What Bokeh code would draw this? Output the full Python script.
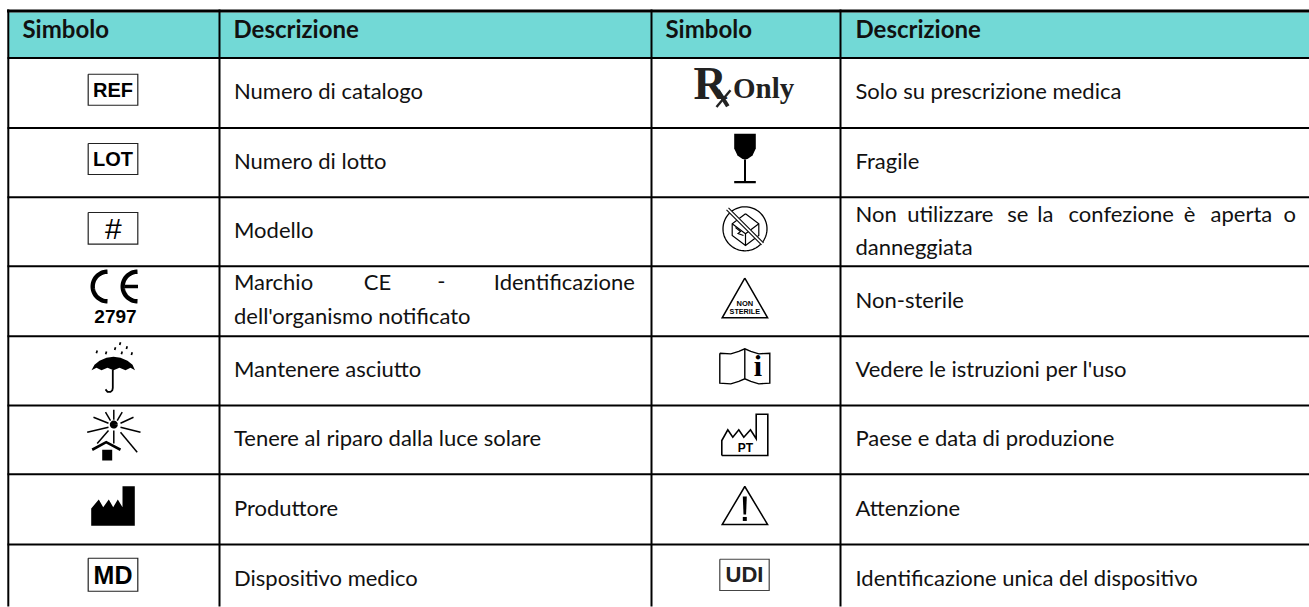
import numpy as np
from bokeh.plotting import figure
from bokeh.models import Range1d
from bokeh.core.properties import value
from bokeh.embed import file_html
from bokeh.resources import INLINE

header_labels = ["Simbolo", "Descrizione", "Simbolo", "Descrizione"]
left_descriptions = [
    "Numero di catalogo", "Numero di lotto", "Modello",
    ["Marchio", "CE", "-", "Identificazione"],
    "Mantenere asciutto", "Tenere al riparo dalla luce solare", "Produttore",
    "Dispositivo medico",
]
left_second_lines = {3: "dell'organismo notificato"}
right_descriptions = [
    "Solo su prescrizione medica", "Fragile",
    ["Non", "utilizzare", "se", "la", "confezione", "è", "aperta", "o"],
    "Non-sterile", "Vedere le istruzioni per l'uso",
    "Paese e data di produzione", "Attenzione",
    "Identificazione unica del dispositivo",
]
right_second_lines = {2: "danneggiata"}

W, H = 1309, 607
col_lines = [7.8, 219, 651, 840]
row_lines = [57.5, 127.5, 196.7, 265.7, 335.7, 405, 473.7, 544, 613.5]
HEADER_COLOR = "#72D9D6"
INK = "#111111"
LEFT, RIGHT = 113.0, 744.3
FONT = "Lato"
BODY = 22
HEAD = 24
K = 0.375

p = figure(width=W, height=H, x_range=Range1d(0, W), y_range=Range1d(H, 0),
           toolbar_location=None, output_backend="svg", min_border=0,
           outline_line_color=None, background_fill_color="white")
p.axis.visible = False
p.grid.visible = False


def center(col, row):
    return (LEFT if col == 0 else RIGHT), (row_lines[row] + row_lines[row + 1]) / 2


def put(x, y, txt, size, font=FONT, style="normal", color=INK, align="left"):
    p.text([x], [y - K * size], text=[txt], text_font=value(font), text_font_style=style,
           text_font_size=f"{size}px", text_color=color, text_align=align,
           text_baseline="alphabetic")


def stroke(col, row, pts, width=1.5, color="#000000", close=False):
    cx, cy = center(col, row)
    pts = list(pts) + ([pts[0]] if close else [])
    p.line([cx + a for a, _ in pts], [cy + b for _, b in pts],
           line_width=width, line_color=color, line_join="miter")


def fill(col, row, pts, color="#000000"):
    cx, cy = center(col, row)
    p.patch([cx + a for a, _ in pts], [cy + b for _, b in pts],
            fill_color=color, line_color=None)


def label(col, row, dx, dy, txt, size, font="Liberation Sans", style="bold",
          color="#000000", align="center"):
    cx, cy = center(col, row)
    put(cx + dx, cy + dy, txt, size, font, style, color, align)


def arc(x, y, r, a0, a1, n=40):
    t = np.radians(np.linspace(a0, a1, n))
    return list(zip(x + r * np.cos(t), y + r * np.sin(t)))


def box(col, row, x0, x1, y0, y1, width=1.2, color="#222222"):
    stroke(col, row, [(x0, y0), (x1, y0), (x1, y1), (x0, y1)], width, color, close=True)


# header band and grid
p.quad(left=[col_lines[0]], right=[W], top=[12], bottom=[57], fill_color=HEADER_COLOR, line_color=None)
p.segment([6.5], [10.5], [W], [10.5], line_color="black", line_width=3)
for y in row_lines[:-1]:
    p.segment([7], [y], [W], [y], line_color="black", line_width=2)
for i, x in enumerate(col_lines):
    p.segment([x], [9], [x], [606], line_color="black", line_width=2)

# text
header_x = [22, 233, 665, 855]
for x, t in zip(header_x, header_labels):
    put(x, 37.3, t, HEAD, style="bold")

BASE_OFFSET = 6.2
body_x = {0: 233.5, 1: 855}
word_x = {3: [233.5, 363.3, 436.7, 493.3], 2: [855, 906.7, 1006.7, 1036.7, 1068, 1183.3, 1210, 1283]}
two_line_base = {3: (289, 323.3), 2: (221, 254)}
for col, (desc, second) in enumerate([(left_descriptions, left_second_lines),
                                      (right_descriptions, right_second_lines)]):
    for r, d in enumerate(desc):
        if isinstance(d, list):
            b1, b2 = two_line_base[r]
            for x, w in zip(word_x[r], d):
                put(x, b1, w, BODY)
            put(body_x[col], b2, second[r], BODY)
        else:
            _, cy = center(col, r)
            put(body_x[col], cy + BASE_OFFSET, d, BODY)

# ---- left symbols ----
box(0, 0, -25.3, 24.3, -18.75, 12.25)
label(0, 0, -0.5, 4.5, "REF", 20)
box(0, 1, -25.3, 24.3, -19.1, 11.9)
label(0, 1, -0.5, 3.9, "LOT", 20)
box(0, 2, -25.3, 24.3, -19.2, 12.5)
label(0, 2, -0.2, 7.8, "#", 30, style="normal")

stroke(0, 3, arc(-6, -14.7, 14.8, 90, 270), 4.4)
stroke(0, 3, arc(24, -14.7, 14.8, 90, 270), 4.4)
stroke(0, 3, [(11.5, -14.7), (24.5, -14.7)], 3.4)
label(0, 3, 2, 22, "2797", 19)

fill(0, 4, [(-22, -0.5), (-19, -6), (-14, -10), (-7, -13), (0, -14), (7, -13), (14, -10),
            (19, -6), (21.5, -0.5), (17, -3), (12, -0.5), (6, -3), (0, -0.5), (-6, -3),
            (-12, -0.5), (-17, -3)])
stroke(0, 4, [(-0.7, -1), (-0.7, 17), (-1.2, 19.5), (-3, 21), (-6, 21), (-8, 18.5)], 1.8)
for dx, dy in [(7, -28.6), (13.7, -24.6), (2, -23.6), (8.7, -19.3), (18.7, -18.6), (-7, -19.3), (-16.3, -20.3)]:
    stroke(0, 4, [(dx, dy), (dx - 0.8, dy + 2.8)], 1.7)

stroke(0, 5, arc(0.3, -15.3, 2, 0, 360), 4)
for a, b in [((0.3, -30), (0.3, -20)), ((-8, -27.7), (-3, -19.3)), ((8.7, -27.7), (3.7, -19.3)),
             ((-20, -22.6), (-5, -16.6)), ((20, -22.6), (7, -16.6)), ((-26.3, -7.7), (-5, -12.7)),
             ((27, -7.7), (7, -12.7)), ((-5, -9.4), (-16.3, 3.6)), ((0.3, -9.4), (0.3, 3.6)),
             ((7, -7.7), (23.7, 12.3))]:
    stroke(0, 5, [a, b], 1.5)
stroke(0, 5, [(-21.3, 9.9), (-7.3, 2.3), (7, 9.9)], 2.6)
fill(0, 5, [(-11.3, 10), (-1.3, 10), (-1.3, 20.6), (-11.3, 20.6)])

fill(0, 6, [(-22.3, 16.45), (-22.3, -0.85), (-14.7, -9.85), (-10.3, -2.15), (-4.7, -9.85),
            (-0.3, -2.15), (4.3, -9.85), (9, -2.15), (9, -23.15), (21.3, -23.15),
            (21.3, 16.45)])

box(0, 7, -25.3, 24.3, -21, 12)
label(0, 7, -0.5, 5.25, "MD", 25)

# ---- right symbols ----
label(1, 0, -51.3, 7.25, "R", 46, font="Liberation Serif", color="#222222", align="left")
stroke(1, 0, [(-27, -2.75), (-17, 13.25)], 4, "#222222")
stroke(1, 0, [(-14.3, -2.75), (-28.3, 13.95)], 2.4, "#222222")
label(1, 0, -11.8, 6.25, "Only", 29, font="Liberation Serif", color="#222222", align="left")

fill(1, 1, [(-10.6, -28.8), (11, -28.8), (11, -14.1), (7.7, -7.1), (2.7, -3.6), (0.2, -3.1),
            (-2.3, -3.6), (-7.3, -7.1), (-10.6, -14.1)])
stroke(1, 1, [(0.2, -3.1), (0.2, 20)], 2)
stroke(1, 1, [(-10.6, 19.6), (11, 19.6)], 2.2)

stroke(1, 2, arc(0.2, -2.9, 22, 0, 360, 90), 1.3)
stroke(1, 2, [(0.7, -17.9), (14, -7.9), (14, 3.8), (0.7, 13.8), (-12.6, 3.8), (-12.6, -7.9)], 1.2, close=True)
stroke(1, 2, [(-12.6, -7.9), (0.7, 2), (14, -7.9)], 1.2)
stroke(1, 2, [(0.7, 2), (0.7, 13.8)], 1.2)
stroke(1, 2, [(-9.3, -4.2), (-4.3, -0.2), (-6.8, 1.8), (-1.3, 3.8)], 1.1)
stroke(1, 2, [(-17.3, -22.9), (17.7, 12.1)], 3.4, "white")
stroke(1, 2, [(-16.3, -23.9), (18.7, 11.1)], 1.1)
stroke(1, 2, [(-18.3, -21.9), (16.7, 13.1)], 1.1)

stroke(1, 3, [(0, -23), (22.8, 16.6), (-22.6, 16.6)], 1.5, close=True)
label(1, 3, 0, 5.3, "NON", 7.5)
label(1, 3, 0, 13, "STERILE", 7.2)

stroke(1, 4, [(-25, -17.65), (-14, -17), (-6, -19.5), (0, -22), (6, -19.5), (14, -17), (25, -17.65),
              (25, 12.35), (14, 13), (6, 10.5), (0, 8), (-6, 10.5), (-14, 13), (-25, 12.35)], 1.4, close=True)
stroke(1, 4, [(0, -22), (0, 8)], 1.4)
label(1, 4, 13, 5.65, "i", 30, font="Liberation Serif")

stroke(1, 5, [(-23, 15.65), (-23, 0.65), (-17, -10.05), (-12, -2.65), (-6, -10.05), (-1, -2.65),
              (5.7, -10.05), (11.4, -1.05), (11.4, -25.65), (23, -25.65), (23, 15.65)], 1.6, close=True)
label(1, 5, 0.7, 12.2, "PT", 12)

stroke(1, 6, [(0, -22.85), (22.8, 15.15), (-22.6, 15.15)], 1.5, close=True)
fill(1, 6, [(-2, -12.85), (2, -12.85), (1.3, 5.15), (-1.3, 5.15)])
fill(1, 6, [(-2, 7.6), (2, 7.6), (2, 11.6), (-2, 11.6)])

box(1, 7, -25, 24.4, -20, 11.25, color="#444444")
label(1, 7, -0.3, 3, "UDI", 22, color="#222222")

open("out.html", "w").write(file_html(p, INLINE))
